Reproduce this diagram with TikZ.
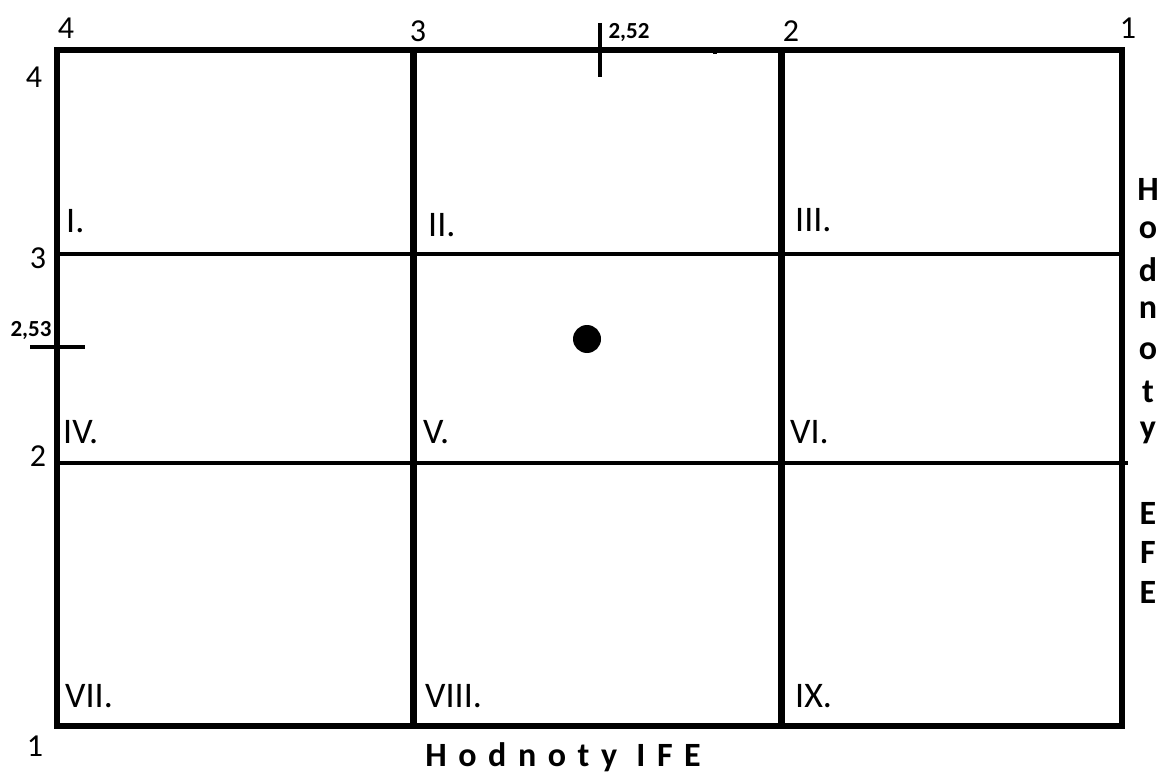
\documentclass[tikz,border=0pt]{standalone}
\usepackage{fontspec}
\setmainfont{Carlito}
\newfontfamily\spacedfont[LetterSpace=34]{Carlito}
\begin{document}
\begin{tikzpicture}[x=1pt,y=-1pt,
  frame/.style={line width=5.5pt},
  vline/.style={line width=7pt},
  hline/.style={line width=4.5pt},
  tick/.style={line width=3.5pt},
  roman/.style={font=\fontsize{36}{36}\selectfont, anchor=base west, inner sep=0pt},
  axnum/.style={font=\fontsize{32}{32}\selectfont, inner sep=0pt},
  small/.style={font=\fontsize{23}{23}\selectfont\bfseries, inner sep=0pt},
  axtitle/.style={font=\fontsize{34}{34}\selectfont\bfseries, inner sep=0pt}]
\useasboundingbox (0,0) rectangle (1165,778);
% grid coordinates
\coordinate (TL) at (57,50);
\coordinate (BR) at (1122,726);
% inner lines
\draw[hline] (57,254) -- (1121,254);
\draw[hline] (57,463) -- (1128,463);
\draw[vline] (413,50) -- (413,726);
\draw[vline] (781,50) -- (781,726);
% frame
\draw[frame] (TL) rectangle (BR);
% ticks
\draw[tick] (600,23) -- (600,77);
\draw[tick] (30,347) -- (85,347);
\fill (713,49) rectangle (717,54);
% point
\node[circle, fill=black, inner sep=0pt, minimum size=28pt] (pt) at (587,339) {};
% top axis numbers
\node[axnum] (t4) at (66,28) {4};
\node[axnum] (t3) at (418,31) {3};
\node[axnum] (t2) at (791,31) {2};
\node[axnum] (t1) at (1128,28) {1};
% left axis numbers
\node[axnum] (l4) at (34,77) {4};
\node[axnum] (l3) at (38,258) {3};
\node[axnum] (l2) at (38,456) {2};
\node[axnum] (l1) at (35,746) {1};
% special values
\node[small] (v252) at (629,33) {2,52};
\node[small] (v253) at (31,331) {2,53};
% roman numerals
\node[roman] (r1) at (66,233) {I.};
\node[roman] (r2) at (428,237) {II.};
\node[roman] (r3) at (795,232) {III.};
\node[roman] (r4) at (63,443) {IV.};
\node[roman] (r5) at (423,443) {V.};
\node[roman] (r6) at (790,443) {VI.};
\node[roman] (r7) at (65,707) {VII.};
\node[roman] (r8) at (425,707) {VIII.};
\node[roman] (r9) at (795,707) {IX.};
% axis titles
\node[axtitle] (xt) at (563,757) {\spacedfont Hodnoty IFE};
\foreach \c/\y [count=\i] in {H/189,o/230,d/270,n/310,o/351,t/392,y/433,E/513,F/552,E/592}
  \node[axtitle, anchor=center] (yt\i) at (1148,\y) {\c};
\end{tikzpicture}
\end{document}
